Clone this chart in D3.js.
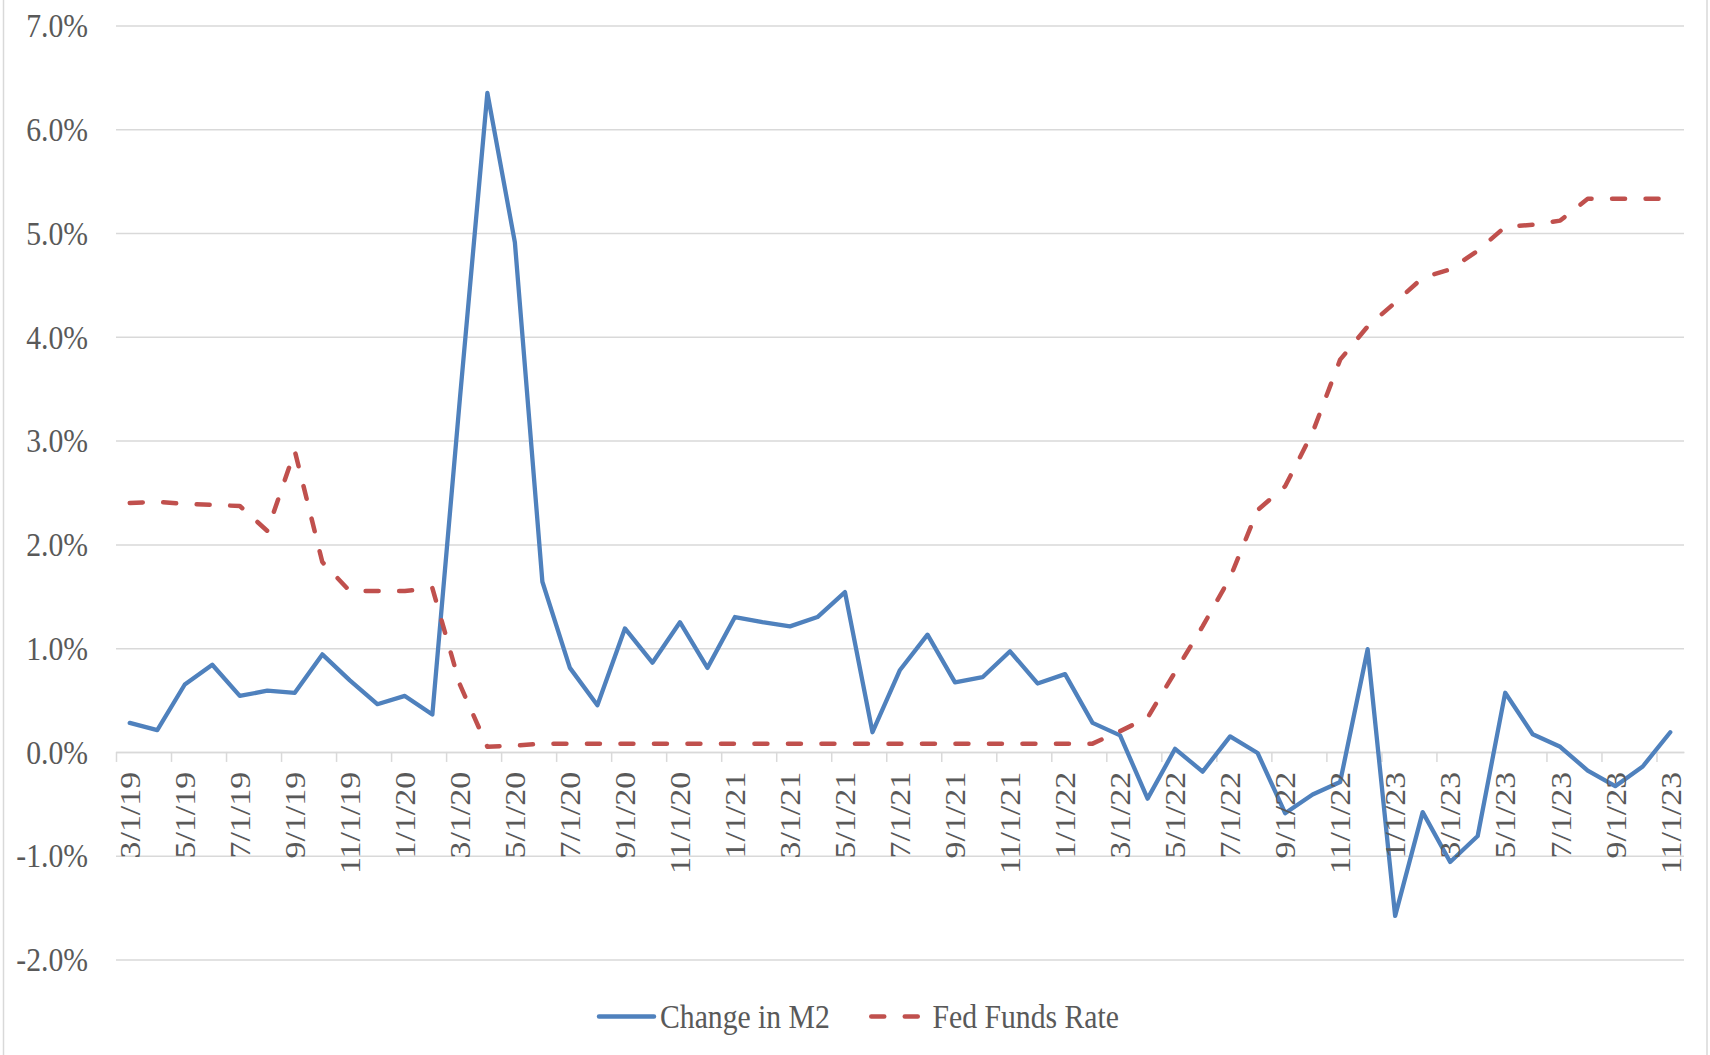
<!DOCTYPE html>
<html>
<head>
<meta charset="utf-8">
<script src="https://cdn.jsdelivr.net/npm/d3@7"></script>
<style>
  html, body { margin: 0; padding: 0; background: #fff; }
  svg text { font-family: "Liberation Serif", "Times New Roman", serif; fill: #595959; }
</style>
</head>
<body>
<svg id="chart" width="1710" height="1055"></svg>
<script>
// monthly categories
const months = [
  "3/1/19","4/1/19","5/1/19","6/1/19","7/1/19","8/1/19","9/1/19","10/1/19","11/1/19","12/1/19",
  "1/1/20","2/1/20","3/1/20","4/1/20","5/1/20","6/1/20","7/1/20","8/1/20","9/1/20","10/1/20","11/1/20","12/1/20",
  "1/1/21","2/1/21","3/1/21","4/1/21","5/1/21","6/1/21","7/1/21","8/1/21","9/1/21","10/1/21","11/1/21","12/1/21",
  "1/1/22","2/1/22","3/1/22","4/1/22","5/1/22","6/1/22","7/1/22","8/1/22","9/1/22","10/1/22","11/1/22","12/1/22",
  "1/1/23","2/1/23","3/1/23","4/1/23","5/1/23","6/1/23","7/1/23","8/1/23","9/1/23","10/1/23","11/1/23"
];

// Change in M2 (%)
const m2Change = [
  0.28, 0.21, 0.65, 0.84, 0.54, 0.59, 0.57, 0.94, 0.69, 0.46,
  0.54, 0.36, 3.40, 6.35, 4.91, 1.64, 0.81, 0.45, 1.19, 0.86, 1.25, 0.81,
  1.30, 1.25, 1.21, 1.30, 1.54, 0.19, 0.79, 1.13, 0.67, 0.72, 0.97, 0.66,
  0.75, 0.28, 0.16, -0.45, 0.03, -0.19, 0.15, -0.01, -0.59, -0.41, -0.29, 0.99,
  -1.58, -0.58, -1.06, -0.81, 0.57, 0.17, 0.05, -0.18, -0.33, -0.14, 0.19
];

// Fed Funds Rate (%)
const fedFunds = [
  2.40, 2.41, 2.39, 2.38, 2.37, 2.13, 2.90, 1.83, 1.55, 1.55,
  1.55, 1.58, 0.65, 0.05, 0.06, 0.08, 0.08, 0.08, 0.08, 0.08, 0.08, 0.08,
  0.08, 0.08, 0.08, 0.08, 0.08, 0.08, 0.08, 0.08, 0.08, 0.08, 0.08, 0.08,
  0.08, 0.08, 0.20, 0.33, 0.77, 1.21, 1.68, 2.33, 2.56, 3.08, 3.78, 4.10,
  4.33, 4.57, 4.65, 4.83, 5.06, 5.08, 5.12, 5.33, 5.33, 5.33, 5.33
];

const yTicks = [-2, -1, 0, 1, 2, 3, 4, 5, 6, 7];
const seriesNames = ["Change in M2", "Fed Funds Rate"];
const colors = ["#4f81bd", "#c0504d"];

const fontSize = 29.7;
const stretch = 1.14;   // le graphique d'origine est étiré verticalement
const dash = "13 20.5";
const left = 116, right = 1684;

const svg = d3.select("#chart");

const x = d3.scaleLinear().domain([0, months.length]).range([left, right]);
const y = d3.scaleLinear().domain([-2, 7]).range([959.5, 25.5]);

// cadre
svg.append("rect")
  .attr("x", 3.5).attr("y", -5)
  .attr("width", 1703.5).attr("height", 1070)
  .attr("fill", "none").attr("stroke", "#d9d9d9").attr("stroke-width", 1.5);

// grille + axe Y
const yAxis = svg.append("g")
  .attr("transform", `translate(${left},0)`)
  .call(d3.axisLeft(y)
    .tickValues(yTicks)
    .tickSize(-(right - left))
    .tickFormat(d => d.toFixed(1) + "%"));
yAxis.select(".domain").remove();
yAxis.selectAll(".tick line").attr("stroke", "#d9d9d9").attr("stroke-width", 1.5);
yAxis.selectAll(".tick text")
  .attr("x", null).attr("dy", "0.33em")
  .attr("transform", `translate(-28,0) scale(1,${stretch})`)
  .attr("text-anchor", "end")
  .style("font-size", fontSize + "px");

// ligne zéro avec graduations tous les 2 mois
const evenIdx = months.map((m, i) => i).filter(i => i % 2 === 0);
const xTickAxis = svg.append("g")
  .attr("transform", `translate(0,${y(0)})`)
  .call(d3.axisBottom(x).tickValues(evenIdx).tickSize(10).tickSizeOuter(0).tickFormat(""));
xTickAxis.select(".domain").attr("stroke", "#d9d9d9").attr("stroke-width", 1.5);
xTickAxis.selectAll(".tick line").attr("stroke", "#d9d9d9").attr("stroke-width", 1.5);

// courbes
const line = d3.line()
  .x((d, i) => x(i + 0.5))
  .y(d => y(d));

svg.append("path")
  .datum(m2Change)
  .attr("d", line)
  .attr("fill", "none")
  .attr("stroke", colors[0])
  .attr("stroke-width", 4.3)
  .attr("stroke-linejoin", "round")
  .attr("stroke-linecap", "round");

svg.append("path")
  .datum(fedFunds)
  .attr("d", line)
  .attr("fill", "none")
  .attr("stroke", colors[1])
  .attr("stroke-width", 4.5)
  .attr("stroke-dasharray", dash)
  .attr("stroke-linejoin", "round")
  .attr("stroke-linecap", "round");

// étiquettes de dates (verticales)
const xLabelAxis = svg.append("g")
  .attr("transform", `translate(0,${y(0)})`)
  .call(d3.axisBottom(x)
    .tickValues(evenIdx.map(i => i + 0.5))
    .tickSize(0)
    .tickFormat(v => months[v - 0.5]));
xLabelAxis.select(".domain").remove();
xLabelAxis.selectAll(".tick text")
  .attr("x", 0).attr("y", 0).attr("dy", "0.33em")
  .attr("transform", `translate(0,20) scale(1,${stretch}) rotate(-90)`)
  .attr("text-anchor", "end")
  .style("font-size", fontSize + "px");

// légende
const legend = [
  { name: seriesNames[0], color: colors[0], x0: 599, x1: 654, tx: 660, dash: null },
  { name: seriesNames[1], color: colors[1], x0: 871.25, x1: 917.75, tx: 932.5, dash: dash }
];
const ly = 1016.5;
const lg = svg.append("g").selectAll("g").data(legend).enter().append("g");
lg.append("line")
  .attr("x1", d => d.x0).attr("x2", d => d.x1)
  .attr("y1", ly).attr("y2", ly)
  .attr("stroke", d => d.color)
  .attr("stroke-width", 4.5)
  .attr("stroke-linecap", "round")
  .attr("stroke-dasharray", d => d.dash);
lg.append("text")
  .attr("transform", d => `translate(${d.tx},${ly}) scale(1,${stretch})`)
  .attr("dy", "0.33em")
  .style("font-size", fontSize + "px")
  .text(d => d.name);
</script>
</body>
</html>
